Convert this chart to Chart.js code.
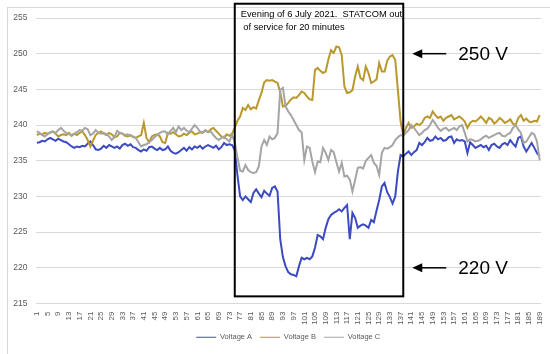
<!DOCTYPE html>
<html>
<head>
<meta charset="utf-8">
<script src="https://cdn.jsdelivr.net/npm/chart.js@4/dist/chart.umd.min.js"></script>
<style>
  html, body { margin: 0; padding: 0; background: #ffffff; }
  #wrap { width: 550px; height: 354px; position: relative; }
</style>
</head>
<body>
<div id="wrap"><canvas id="c" width="550" height="354"></canvas></div>
<script>
// ---- Data ----
const categories = Array.from({ length: 189 }, (_, i) => String(i + 1));
const yTicks = [215, 220, 225, 230, 235, 240, 245, 250, 255];
const seriesNames = ['Voltage A', 'Voltage B', 'Voltage C'];

const voltageA = [
  237.5, 237.6, 237.8, 237.7, 238.0, 238.2, 238.0, 237.8, 238.1, 237.9,
  237.7, 237.6, 237.3, 237.0, 236.8, 237.0, 236.9, 237.1, 237.0, 237.4,
  237.7, 237.2, 236.6, 236.5, 236.7, 237.1, 236.8, 237.2, 237.0, 236.8,
  237.0, 236.7, 237.2, 237.4, 237.1, 237.3, 236.9, 236.8, 236.5, 236.3,
  236.6, 236.4, 236.9, 237.0, 236.7, 236.5, 236.8, 236.5, 236.6, 237.0,
  236.4, 236.1, 236.0, 236.2, 236.5, 236.8, 236.4, 236.9, 236.6, 237.0,
  236.8, 237.1, 236.7, 237.0, 237.2, 237.0, 236.8, 237.1, 236.6, 236.9,
  237.5, 237.2, 237.3, 237.2, 236.5, 233.0, 230.0, 229.5, 230.0, 229.6,
  229.2, 230.5, 231.0, 230.4, 229.9, 230.8, 230.4, 230.1, 231.2, 231.4,
  230.7, 224.0, 221.5, 220.2, 219.4, 219.1, 219.0, 218.8, 220.2, 221.4,
  221.2, 221.4, 221.2, 221.6, 222.8, 224.6, 224.4, 224.0, 225.6, 226.8,
  227.4, 227.7, 227.9, 228.2, 227.9, 228.4, 228.8, 224.0, 227.7, 227.0,
  225.6, 225.9, 226.1, 225.9, 225.6, 226.7, 226.4, 228.0, 229.5, 231.4,
  231.9, 230.6, 229.9, 229.0, 230.0, 233.5, 235.8, 235.6, 236.0, 236.3,
  235.8, 236.2, 236.5, 237.5, 237.2, 237.6, 238.2, 237.8, 237.9, 238.4,
  238.0, 238.2, 237.8, 237.9, 238.3, 238.4, 237.5, 238.0, 237.8, 237.9,
  237.7, 236.1, 237.6, 237.2, 236.8, 237.0, 237.2, 236.9, 237.1, 236.5,
  237.2, 237.4, 237.0, 236.8, 237.3, 237.5, 237.2, 237.9, 237.4, 237.0,
  238.2, 238.4, 237.0, 236.3, 236.9, 237.5, 236.8, 236.1, 235.6
];

const voltageB = [
  238.6, 238.8, 238.7, 238.9, 238.8, 238.9, 239.1, 238.8, 238.4, 238.6,
  238.7, 238.6, 238.9, 238.5, 238.8, 238.6, 238.9, 239.1, 238.6, 237.9,
  237.0, 237.8, 238.6, 238.9, 239.1, 238.8, 238.6, 238.9, 238.7, 238.3,
  238.4, 238.9, 238.8, 238.5, 238.4, 238.6, 238.3, 238.2, 238.4, 238.6,
  240.3, 238.2, 237.6, 238.4, 238.6, 238.7, 238.4, 237.6, 237.5, 238.9,
  238.8, 239.0, 238.7, 238.4, 238.5, 238.8, 238.6, 238.9, 239.1, 238.7,
  238.8, 239.0, 238.9, 239.3, 239.0, 239.4, 239.6, 239.2, 238.8, 238.4,
  238.2, 238.7, 238.5, 238.8, 239.6, 240.6, 241.2, 242.4, 242.1, 242.8,
  242.2, 242.5, 242.3, 243.5, 244.5, 246.0, 246.3, 246.2, 246.3, 246.1,
  245.9, 244.6, 242.6, 242.7, 243.1, 243.6, 243.9, 243.8, 244.2, 244.7,
  244.5, 244.0, 243.6, 243.5, 247.7, 248.0, 247.6, 247.3, 247.5, 249.2,
  250.5, 250.1, 251.0, 250.9, 249.8, 245.4, 244.5, 244.6, 244.9, 246.8,
  248.2, 246.6, 246.3, 248.2, 247.3, 245.9, 246.1, 246.4, 248.7, 247.5,
  247.5, 249.0, 249.6, 249.8, 249.1, 244.9, 240.5, 238.6, 239.6, 240.3,
  239.6, 239.8, 240.2, 240.0, 240.3, 241.0, 241.2, 241.0, 241.9, 241.4,
  241.0, 241.2, 240.6, 241.0, 241.2, 241.4, 240.8, 241.0, 241.2, 240.9,
  240.5, 239.6, 240.3, 240.6, 240.5, 240.8, 241.2, 240.8, 240.3, 241.0,
  240.8, 240.2, 240.5, 241.0, 240.7, 240.3, 240.5, 240.8, 240.2, 240.0,
  241.0, 241.4, 240.6, 240.9, 240.5, 240.4, 240.6, 240.5, 241.4
];

const voltageC = [
  239.1, 238.9, 238.6, 238.4, 238.7, 239.0, 239.1, 238.9, 239.3, 239.6,
  239.2, 238.9, 238.7, 238.6, 238.8, 239.0, 239.3, 239.2, 239.6, 239.4,
  238.6, 238.8, 239.3, 238.9, 238.8, 238.9, 238.7, 238.4, 237.9, 238.3,
  239.2, 238.9, 238.8, 238.6, 238.7, 238.5, 238.4, 238.2, 237.6, 237.0,
  237.2, 237.3, 237.6, 237.9, 238.3, 238.6, 238.9, 239.1, 239.1, 238.7,
  239.2, 239.6, 239.0, 239.8, 239.3, 239.6, 239.2, 239.0, 239.5, 240.0,
  239.6, 239.1, 239.0, 239.2, 239.0, 239.1, 238.6, 238.2, 237.9, 238.2,
  238.4, 238.0, 237.7, 238.6, 237.6, 235.5, 233.6, 233.5, 234.4, 233.7,
  233.4, 233.3, 233.4, 234.2, 237.0, 237.9, 237.2, 238.4, 238.0, 238.2,
  238.9, 244.9, 245.2, 242.6, 241.9, 241.4, 240.7, 240.0, 239.3, 239.0,
  235.1, 237.0, 236.8, 234.9, 233.4, 234.9, 234.8, 236.8, 236.1, 235.1,
  236.5, 236.2, 234.8, 233.5, 234.7, 232.8, 232.9, 232.4, 230.7, 232.3,
  234.0, 234.1, 233.9, 235.0, 235.4, 235.8, 234.7, 234.3, 233.0, 236.1,
  236.8, 236.7, 236.9, 237.2, 237.9, 238.3, 238.6, 238.5, 238.9, 239.3,
  240.0, 239.6, 239.1, 238.6, 238.9, 239.3, 239.5, 240.0, 240.7, 240.2,
  239.6, 239.2, 239.5, 239.6, 239.2, 239.4, 239.6, 239.3, 239.8, 240.0,
  238.9, 237.7, 238.0, 237.9, 237.7, 237.8, 238.0, 238.3, 238.5, 238.2,
  238.4, 238.6, 238.8, 238.9, 238.5, 238.4, 238.7, 238.9, 239.6, 240.0,
  239.4, 238.9, 237.5, 237.7, 238.3, 238.9, 238.7, 237.7, 235.1
];

// Annotation values (in data units)
const boxCatStart = 75.0, boxCatEnd = 138.0;   // category positions (1-based)
const boxTop = 257, boxBottom = 216;            // voltage
const noteLines = ['Evening of 6 July 2021.  STATCOM out', ' of service for 20 minutes'];
const markers = [{ v: 250, label: '250 V' }, { v: 220, label: '220 V' }];

const colors = ['#3C4BC0', '#B9982C', '#A5A5A5'];
const tickColor = '#595959';

const annotationPlugin = {
  id: 'annot',
  beforeDraw(chart) {
    const ctx = chart.ctx;
    ctx.save();
    ctx.fillStyle = '#ffffff';
    ctx.fillRect(0, 0, chart.width, chart.height);
    ctx.strokeStyle = '#d9d9d9';
    ctx.lineWidth = 1;
    ctx.strokeRect(7.5, 7.5, 600, 400);
    ctx.restore();
  },
  afterDatasetsDraw(chart) {
    const ctx = chart.ctx;
    const xs = chart.scales.x, ys = chart.scales.y;
    const x1 = xs.getPixelForValue(boxCatStart - 1);
    const x2 = xs.getPixelForValue(boxCatEnd - 1);
    const y1 = ys.getPixelForValue(boxTop);
    const y2 = ys.getPixelForValue(boxBottom);
    ctx.save();
    ctx.strokeStyle = '#000000';
    ctx.lineWidth = 2;
    ctx.strokeRect(x1, y1, x2 - x1, y2 - y1);
    ctx.fillStyle = '#000000';
    ctx.font = '9.3px "Liberation Sans", Arial, sans-serif';
    ctx.textBaseline = 'middle';
    ctx.textAlign = 'left';
    noteLines.forEach((t, i) => ctx.fillText(t, x1 + 6, y1 + 11 + i * 12.7));
    // arrows and labels
    markers.forEach(m => {
      const y = ys.getPixelForValue(m.v);
      const tip = x2 + 9;
      const tail = x2 + 43;
      ctx.lineWidth = 1.5;
      ctx.beginPath();
      ctx.moveTo(tip + 6, y);
      ctx.lineTo(tail, y);
      ctx.stroke();
      ctx.beginPath();
      ctx.moveTo(tip, y);
      ctx.lineTo(tip + 10, y - 4.5);
      ctx.lineTo(tip + 10, y + 4.5);
      ctx.closePath();
      ctx.fill();
      ctx.font = '19px "Liberation Sans", Arial, sans-serif';
      ctx.fillText(m.label, x2 + 55, y + 1);
    });
    ctx.restore();
  }
};

new Chart(document.getElementById('c'), {
  type: 'line',
  data: {
    labels: categories,
    datasets: [
      { label: seriesNames[0], data: voltageA, borderColor: colors[0], backgroundColor: colors[0], order: 3 },
      { label: seriesNames[1], data: voltageB, borderColor: colors[1], backgroundColor: colors[1], order: 2 },
      { label: seriesNames[2], data: voltageC, borderColor: colors[2], backgroundColor: colors[2], order: 1 }
    ]
  },
  options: {
    responsive: false,
    animation: false,
    devicePixelRatio: 1,
    layout: { padding: { top: 18, right: 9, left: 0, bottom: 3 } },
    elements: {
      line: { borderWidth: 2, tension: 0 },
      point: { radius: 0, hoverRadius: 0 }
    },
    plugins: {
      tooltip: { enabled: false },
      legend: {
        position: 'bottom',
        fullSize: false,
        labels: {
          usePointStyle: true,
          pointStyle: 'line',
          pointStyleWidth: 20,
          boxHeight: 9,
          color: tickColor,
          padding: 8,
          font: { family: '"Liberation Sans", Arial, sans-serif', size: 7.5 },
          sort: (a, b) => a.datasetIndex - b.datasetIndex
        }
      }
    },
    scales: {
      x: {
        type: 'category',
        offset: true,
        grid: { display: false },
        border: { display: false },
        ticks: {
          autoSkip: false,
          minRotation: 90,
          maxRotation: 90,
          padding: 0,
          color: tickColor,
          font: { family: '"Liberation Sans", Arial, sans-serif', size: 8 },
          callback: (val, idx) => (idx % 4 === 0 ? categories[idx] : '')
        },
        afterFit: (s) => { s.height = 22; }
      },
      y: {
        min: yTicks[0],
        max: yTicks[yTicks.length - 1],
        afterBuildTicks: (s) => { s.ticks = yTicks.map(v => ({ value: v })); },
        grid: { color: '#d9d9d9', lineWidth: 1, drawTicks: false },
        border: { display: false },
        ticks: {
          padding: 8,
          color: tickColor,
          font: { family: '"Liberation Sans", Arial, sans-serif', size: 8.5 }
        },
        afterFit: (s) => { s.width = 35.5; }
      }
    }
  },
  plugins: [annotationPlugin]
});
</script>
</body>
</html>
